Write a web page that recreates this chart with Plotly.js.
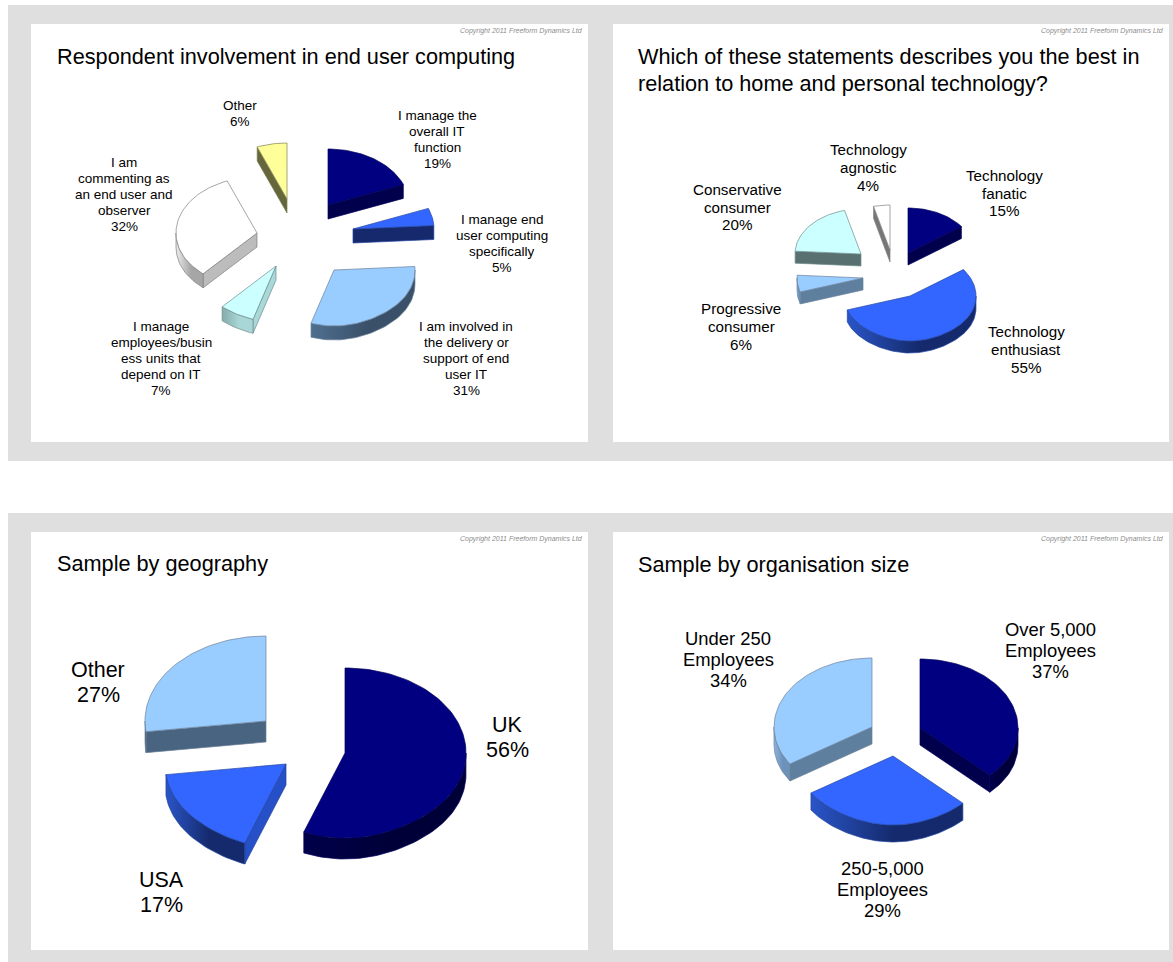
<!DOCTYPE html>
<html>
<head>
<meta charset="utf-8">
<title>End user computing survey: sample profile</title>
<script src="https://cdn.plot.ly/plotly-3.0.1.min.js"></script>
<style>html,body{margin:0;padding:0;background:#fff}#chart{width:1173px;height:962px}</style>
</head>
<body>
<div id="chart"></div>
<script>
// Survey results, in percent
const involvementLabels = ['I manage the<br>overall IT<br>function', 'I manage end<br>user computing<br>specifically', 'I am involved in<br>the delivery or<br>support of end<br>user IT', 'I manage<br>employees/busin<br>ess units that<br>depend on IT', 'I am<br>commenting as<br>an end user and<br>observer', 'Other'];
const involvementValues = [19, 5, 31, 7, 32, 6];

const attitudeLabels = ['Technology<br>fanatic', 'Technology<br>enthusiast', 'Progressive<br>consumer', 'Conservative<br>consumer', 'Technology<br>agnostic'];
const attitudeValues = [15, 55, 6, 20, 4];

const geographyLabels = ['UK', 'USA', 'Other'];
const geographyValues = [56, 17, 27];

const sizeLabels = ['Over 5,000<br>Employees', '250-5,000<br>Employees', 'Under 250<br>Employees'];
const sizeValues = [37, 29, 34];

const titles = [
  'Respondent involvement in end user computing',
  'Which of these statements describes you the best in<br>relation to home and personal technology?',
  'Sample by geography',
  'Sample by organisation size'
];
const copyrightText = 'Copyright 2011 Freeform Dynamics Ltd';

// Page palette
const NAVY = '#000080', BLUE = '#3366ff', SKY = '#99ccff', ICE = '#ccffff', WHITE = '#ffffff', CREAM = '#ffff99';
const FONT = '"Liberation Sans", Arial, sans-serif';

// Per-slice look: top colour, cut face colour, rim gradient (left, right), outline
const look = {
  navy:   [NAVY, '#00004d', '#00004a', '#000038', '#00005a'],
  blue:   [BLUE, '#15296c', '#2a55c8', '#142a6c', '#24459f'],
  blueC:  [BLUE, '#2650c8', '#2a55c8', '#142a6c', '#24459f'],
  sky:    [SKY, '#486480', '#4f6f90', '#3a5068', '#6b8199'],
  skyL:   [SKY, '#5f7f9f', '#8db4de', '#6c92ba', '#6b8199'],
  ice:    [ICE, '#a8d8d8', '#86abab', '#a9d6d6', '#6f8c8c'],
  iceD:   [ICE, '#587070', '#86abab', '#a9d6d6', '#6f8c8c'],
  white:  [WHITE, '#bcbcbc', '#ececec', '#a6a6a6', '#808080'],
  whiteD: [WHITE, '#777777', '#ececec', '#a6a6a6', '#808080'],
  cream:  [CREAM, '#66663c', '#66663c', '#66663c', '#7f7f55']
};

// Pie placement in page pixels. Each slice has its own apex because slices are pulled apart.
const pies = [
  { labels: involvementLabels, values: involvementValues, card: [31, 24, 588, 442], title: [55, 56], copyY: 31,
    rx: 81, ry: 56, depth: 14, labelSize: 13.5, lineStep: 16,
    apex: [[328, 205], [353, 229], [334, 270], [276, 266], [257, 233], [287, 199]],
    looks: ['navy', 'blue', 'sky', 'ice', 'white', 'cream'],
    labelAt: [[437, 139.3], [502, 243.3], [466, 358.3], [161, 358.3], [124, 194.3], [240, 113.3]] },
  { labels: attitudeLabels, values: attitudeValues, card: [613, 24, 1169, 442], title: [636, 69.5], copyY: 31,
    rx: 66, ry: 45, depth: 12, labelSize: 15.2, lineStep: 17.7,
    apex: [[908, 253], [910, 296], [863, 278], [861, 254], [890, 250]],
    looks: ['navy', 'blue', 'skyL', 'iceD', 'whiteD'],
    labelAt: [[1004, 193], [1026, 349.5], [741, 326.5], [737, 207], [868, 167.3]] },
  { labels: geographyLabels, values: geographyValues, card: [31, 532, 588, 950], title: [55, 563], copyY: 539,
    rx: 121, ry: 85, depth: 21, labelSize: 21.5, lineStep: 25,
    apex: [[345, 753], [286, 764], [266, 721]],
    looks: ['navy', 'blueC', 'sky'],
    labelAt: [[507, 737.5], [161, 892.5], [98, 682.5]] },
  { labels: sizeLabels, values: sizeValues, card: [613, 532, 1169, 950], title: [636, 564], copyY: 539,
    rx: 98, ry: 69, depth: 17, labelSize: 18.4, lineStep: 21,
    apex: [[920, 728], [893, 756], [872, 727]],
    looks: ['navy', 'blue', 'skyL'],
    labelAt: [[1050, 650.3], [882, 889.5], [728, 659.3]] }
];
const TITLE_SIZE = 21.7, TITLE_STEP = 27;

const PAGE_W = 1173, PAGE_H = 962;
const traces = [], annotations = [], axes = {};

// Card and backdrop rectangles
const rect = (x0, y0, x1, y1, color) => ({
  type: 'rect', xref: 'paper', yref: 'paper', layer: 'below',
  x0: x0 / PAGE_W, x1: x1 / PAGE_W, y0: 1 - y0 / PAGE_H, y1: 1 - y1 / PAGE_H,
  fillcolor: color, line: { width: 0 }
});
const shapes = [rect(8, 5, PAGE_W, 461, '#dfdfdf'), rect(8, 513, PAGE_W, PAGE_H, '#dfdfdf')];

const rad = d => d * Math.PI / 180;

// Multi-line text is placed line by line so the leading can differ from the font default
function addTextBlock(text, x, yMid, step, xName, yName, anchor, size) {
  const lines = text.split('<br>');
  lines.forEach((line, k) => annotations.push({
    xref: xName, yref: yName, x, y: yMid + (k - (lines.length - 1) / 2) * step,
    text: line, showarrow: false, xanchor: anchor, yanchor: 'middle', align: anchor,
    font: { family: FONT, size, color: '#000' }
  }));
}

pies.forEach((pie, p) => {
  const [cx0, cy0, cx1, cy1] = pie.card;
  shapes.push(rect(cx0, cy0, cx1, cy1, '#ffffff'));
  const suffix = p === 0 ? '' : String(p + 1);
  const xName = 'x' + suffix, yName = 'y' + suffix;
  axes['xaxis' + suffix] = { domain: [cx0 / PAGE_W, cx1 / PAGE_W], range: [cx0, cx1], visible: false, fixedrange: true, anchor: yName };
  axes['yaxis' + suffix] = { domain: [1 - cy1 / PAGE_H, 1 - cy0 / PAGE_H], range: [cy1, cy0], visible: false, fixedrange: true, anchor: xName };

  const total = pie.values.reduce((a, b) => a + b, 0);
  let running = 0;
  pie.values.forEach((value, i) => {
    const from = running / total * 360;
    running += value;
    const to = running / total * 360;
    const [ax, ay] = pie.apex[i];
    const [top, cut, rimL, rimR, edge] = look[pie.looks[i]];
    // Foreshortening: the nearest part of the ellipse draws in slightly towards the centre line
    const near = a => 1 - 0.1 * Math.pow(Math.max(0, -Math.cos(rad(a))), 4);
    const px = a => ax + pie.rx * near(a) * Math.sin(rad(a));
    const py = a => ay - pie.ry * Math.cos(rad(a));
    const poly = (xs, ys, extra) => traces.push(Object.assign({
      type: 'scatter', mode: 'lines', x: xs, y: ys, xaxis: xName, yaxis: yName,
      fill: 'toself', line: { color: edge, width: 0.7 }, hoverinfo: 'skip', showlegend: false
    }, extra));

    // A cut face shows only when it turns towards the viewer
    const cutFace = a => poly([ax, px(a), px(a), ax, ax],
      [ay, py(a), py(a) + pie.depth, ay + pie.depth, ay], { fillcolor: cut });
    if (Math.sin(rad(from)) < -1e-6) cutFace(from);
    if (Math.sin(rad(to)) > 1e-6) cutFace(to);

    // Front part of the outer rim, between the 3 and 9 o'clock positions
    const r0 = Math.max(from, 90), r1 = Math.min(to, 270);
    if (r1 > r0) {
      const arc = [];
      for (let a = r0; a < r1; a += 2) arc.push(a);
      arc.push(r1);
      const xs = arc.map(px).concat(arc.slice().reverse().map(px));
      const ys = arc.map(py).concat(arc.slice().reverse().map(a => py(a) + pie.depth));
      xs.push(xs[0]); ys.push(ys[0]);
      poly(xs, ys, {
        fillcolor: rimR,
        fillgradient: { type: 'horizontal', colorscale: [[0, rimL], [0.55, rimR], [1, rimR]] }
      });
    }

    // Top surface
    const sweep = [];
    for (let a = from; a < to; a += 2) sweep.push(a);
    sweep.push(to);
    poly([ax].concat(sweep.map(px), ax), [ay].concat(sweep.map(py), ay), {
      fillcolor: top, name: pie.labels[i].replace(/<br>/g, ' '),
      text: pie.labels[i].replace(/<br>/g, ' ') + ': ' + value + '%', hoverinfo: 'text', hoveron: 'fills'
    });

    addTextBlock(pie.labels[i] + '<br>' + value + '%', pie.labelAt[i][0], pie.labelAt[i][1],
      pie.lineStep, xName, yName, 'center', pie.labelSize);
  });

  addTextBlock(titles[p], pie.title[0], pie.title[1], TITLE_STEP, xName, yName, 'left', TITLE_SIZE);
  annotations.push({
    xref: xName, yref: yName, x: cx1 - 3, y: pie.copyY, text: '<i>' + copyrightText + '</i>', showarrow: false,
    xanchor: 'right', yanchor: 'middle', font: { family: FONT, size: 7, color: '#8c8c8c' }
  });
});

const layout = Object.assign({
  width: PAGE_W, height: PAGE_H, margin: { l: 0, r: 0, t: 0, b: 0, pad: 0 },
  paper_bgcolor: '#ffffff', plot_bgcolor: 'rgba(0,0,0,0)', showlegend: false,
  shapes, annotations
}, axes);

Plotly.newPlot('chart', traces, layout, { displayModeBar: false });
</script>
</body>
</html>
